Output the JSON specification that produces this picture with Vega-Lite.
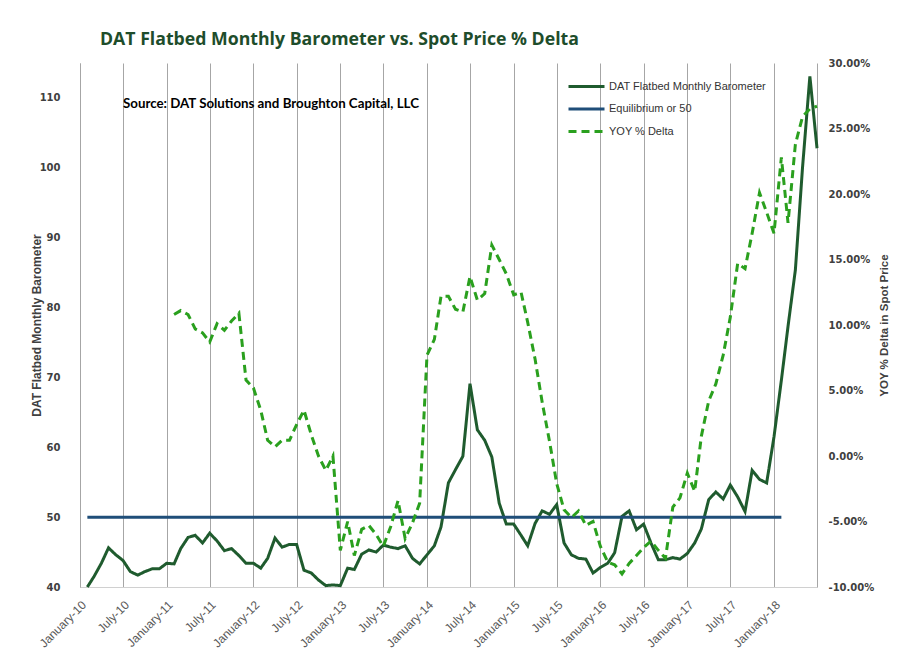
{
  "$schema": "https://vega.github.io/schema/vega-lite/v6.json",
  "width": 737,
  "height": 524,
  "autosize": "none",
  "padding": {"left": 80, "top": 63, "right": 94, "bottom": 74},
  "background": "white",
  "config": {
    "view": {"stroke": null},
    "axis": {"ticks": false, "labelFont": "DejaVu Sans", "titleFont": "Liberation Sans"}
  },
  "title": {
    "text": "DAT Flatbed Monthly Barometer vs. Spot Price % Delta",
    "anchor": "start",
    "frame": "group",
    "dx": 20,
    "offset": 9,
    "font": "Open Sans",
    "fontSize": 17.7,
    "fontWeight": "bold",
    "color": "#1e4d2b"
  },
  "data": {
    "values": [
      {"month": "2010-02", "barometer": 40.0, "equilibrium": 50},
      {"month": "2010-03", "barometer": 41.5, "equilibrium": 50},
      {"month": "2010-04", "barometer": 43.4, "equilibrium": 50},
      {"month": "2010-05", "barometer": 45.6, "equilibrium": 50},
      {"month": "2010-06", "barometer": 44.6, "equilibrium": 50},
      {"month": "2010-07", "barometer": 43.8, "equilibrium": 50},
      {"month": "2010-08", "barometer": 42.2, "equilibrium": 50},
      {"month": "2010-09", "barometer": 41.7, "equilibrium": 50},
      {"month": "2010-10", "barometer": 42.2, "equilibrium": 50},
      {"month": "2010-11", "barometer": 42.6, "equilibrium": 50},
      {"month": "2010-12", "barometer": 42.6, "equilibrium": 50},
      {"month": "2011-01", "barometer": 43.4, "equilibrium": 50},
      {"month": "2011-02", "barometer": 43.3, "equilibrium": 50, "yoy": 0.108},
      {"month": "2011-03", "barometer": 45.5, "equilibrium": 50, "yoy": 0.111},
      {"month": "2011-04", "barometer": 47.1, "equilibrium": 50, "yoy": 0.108},
      {"month": "2011-05", "barometer": 47.4, "equilibrium": 50, "yoy": 0.097},
      {"month": "2011-06", "barometer": 46.3, "equilibrium": 50, "yoy": 0.094},
      {"month": "2011-07", "barometer": 47.7, "equilibrium": 50, "yoy": 0.087},
      {"month": "2011-08", "barometer": 46.6, "equilibrium": 50, "yoy": 0.101},
      {"month": "2011-09", "barometer": 45.2, "equilibrium": 50, "yoy": 0.096},
      {"month": "2011-10", "barometer": 45.5, "equilibrium": 50, "yoy": 0.103},
      {"month": "2011-11", "barometer": 44.5, "equilibrium": 50, "yoy": 0.109},
      {"month": "2011-12", "barometer": 43.4, "equilibrium": 50, "yoy": 0.058},
      {"month": "2012-01", "barometer": 43.4, "equilibrium": 50, "yoy": 0.052},
      {"month": "2012-02", "barometer": 42.7, "equilibrium": 50, "yoy": 0.035},
      {"month": "2012-03", "barometer": 44.1, "equilibrium": 50, "yoy": 0.012},
      {"month": "2012-04", "barometer": 47.0, "equilibrium": 50, "yoy": 0.007},
      {"month": "2012-05", "barometer": 45.7, "equilibrium": 50, "yoy": 0.012},
      {"month": "2012-06", "barometer": 46.1, "equilibrium": 50, "yoy": 0.012},
      {"month": "2012-07", "barometer": 46.1, "equilibrium": 50, "yoy": 0.024},
      {"month": "2012-08", "barometer": 42.4, "equilibrium": 50, "yoy": 0.035},
      {"month": "2012-09", "barometer": 42.0, "equilibrium": 50, "yoy": 0.016},
      {"month": "2012-10", "barometer": 41.0, "equilibrium": 50, "yoy": 0.000},
      {"month": "2012-11", "barometer": 40.2, "equilibrium": 50, "yoy": -0.011},
      {"month": "2012-12", "barometer": 40.3, "equilibrium": 50, "yoy": 0.000},
      {"month": "2013-01", "barometer": 40.2, "equilibrium": 50, "yoy": -0.072},
      {"month": "2013-02", "barometer": 42.7, "equilibrium": 50, "yoy": -0.050},
      {"month": "2013-03", "barometer": 42.5, "equilibrium": 50, "yoy": -0.076},
      {"month": "2013-04", "barometer": 44.7, "equilibrium": 50, "yoy": -0.056},
      {"month": "2013-05", "barometer": 45.3, "equilibrium": 50, "yoy": -0.053},
      {"month": "2013-06", "barometer": 45.0, "equilibrium": 50, "yoy": -0.060},
      {"month": "2013-07", "barometer": 46.0, "equilibrium": 50, "yoy": -0.069},
      {"month": "2013-08", "barometer": 45.7, "equilibrium": 50, "yoy": -0.054},
      {"month": "2013-09", "barometer": 45.5, "equilibrium": 50, "yoy": -0.034},
      {"month": "2013-10", "barometer": 45.9, "equilibrium": 50, "yoy": -0.063},
      {"month": "2013-11", "barometer": 44.1, "equilibrium": 50, "yoy": -0.051},
      {"month": "2013-12", "barometer": 43.3, "equilibrium": 50, "yoy": -0.036},
      {"month": "2014-01", "barometer": 44.6, "equilibrium": 50, "yoy": 0.077},
      {"month": "2014-02", "barometer": 45.9, "equilibrium": 50, "yoy": 0.089},
      {"month": "2014-03", "barometer": 48.6, "equilibrium": 50, "yoy": 0.122},
      {"month": "2014-04", "barometer": 54.9, "equilibrium": 50, "yoy": 0.122},
      {"month": "2014-05", "barometer": 56.8, "equilibrium": 50, "yoy": 0.112},
      {"month": "2014-06", "barometer": 58.7, "equilibrium": 50, "yoy": 0.110},
      {"month": "2014-07", "barometer": 69.1, "equilibrium": 50, "yoy": 0.137},
      {"month": "2014-08", "barometer": 62.5, "equilibrium": 50, "yoy": 0.119},
      {"month": "2014-09", "barometer": 61.0, "equilibrium": 50, "yoy": 0.124},
      {"month": "2014-10", "barometer": 58.6, "equilibrium": 50, "yoy": 0.161},
      {"month": "2014-11", "barometer": 52.0, "equilibrium": 50, "yoy": 0.150},
      {"month": "2014-12", "barometer": 49.0, "equilibrium": 50, "yoy": 0.139},
      {"month": "2015-01", "barometer": 49.0, "equilibrium": 50, "yoy": 0.123},
      {"month": "2015-02", "barometer": 47.4, "equilibrium": 50, "yoy": 0.125},
      {"month": "2015-03", "barometer": 45.9, "equilibrium": 50, "yoy": 0.102},
      {"month": "2015-04", "barometer": 49.1, "equilibrium": 50, "yoy": 0.074},
      {"month": "2015-05", "barometer": 50.9, "equilibrium": 50, "yoy": 0.041},
      {"month": "2015-06", "barometer": 50.4, "equilibrium": 50, "yoy": 0.011},
      {"month": "2015-07", "barometer": 51.8, "equilibrium": 50, "yoy": -0.021},
      {"month": "2015-08", "barometer": 46.3, "equilibrium": 50, "yoy": -0.041},
      {"month": "2015-09", "barometer": 44.6, "equilibrium": 50, "yoy": -0.047},
      {"month": "2015-10", "barometer": 44.1, "equilibrium": 50, "yoy": -0.042},
      {"month": "2015-11", "barometer": 44.0, "equilibrium": 50, "yoy": -0.053},
      {"month": "2015-12", "barometer": 42.0, "equilibrium": 50, "yoy": -0.050},
      {"month": "2016-01", "barometer": 42.8, "equilibrium": 50, "yoy": -0.069},
      {"month": "2016-02", "barometer": 43.4, "equilibrium": 50, "yoy": -0.081},
      {"month": "2016-03", "barometer": 44.9, "equilibrium": 50, "yoy": -0.083},
      {"month": "2016-04", "barometer": 50.1, "equilibrium": 50, "yoy": -0.090},
      {"month": "2016-05", "barometer": 50.9, "equilibrium": 50, "yoy": -0.082},
      {"month": "2016-06", "barometer": 48.2, "equilibrium": 50, "yoy": -0.076},
      {"month": "2016-07", "barometer": 49.0, "equilibrium": 50, "yoy": -0.070},
      {"month": "2016-08", "barometer": 46.3, "equilibrium": 50, "yoy": -0.065},
      {"month": "2016-09", "barometer": 43.9, "equilibrium": 50, "yoy": -0.072},
      {"month": "2016-10", "barometer": 43.9, "equilibrium": 50, "yoy": -0.078},
      {"month": "2016-11", "barometer": 44.2, "equilibrium": 50, "yoy": -0.039},
      {"month": "2016-12", "barometer": 44.0, "equilibrium": 50, "yoy": -0.032},
      {"month": "2017-01", "barometer": 44.8, "equilibrium": 50, "yoy": -0.013},
      {"month": "2017-02", "barometer": 46.3, "equilibrium": 50, "yoy": -0.027},
      {"month": "2017-03", "barometer": 48.3, "equilibrium": 50, "yoy": 0.015},
      {"month": "2017-04", "barometer": 52.5, "equilibrium": 50, "yoy": 0.042},
      {"month": "2017-05", "barometer": 53.6, "equilibrium": 50, "yoy": 0.055},
      {"month": "2017-06", "barometer": 52.6, "equilibrium": 50, "yoy": 0.077},
      {"month": "2017-07", "barometer": 54.6, "equilibrium": 50, "yoy": 0.106},
      {"month": "2017-08", "barometer": 52.9, "equilibrium": 50, "yoy": 0.147},
      {"month": "2017-09", "barometer": 50.8, "equilibrium": 50, "yoy": 0.143},
      {"month": "2017-10", "barometer": 56.7, "equilibrium": 50, "yoy": 0.170},
      {"month": "2017-11", "barometer": 55.4, "equilibrium": 50, "yoy": 0.201},
      {"month": "2017-12", "barometer": 54.9, "equilibrium": 50, "yoy": 0.186},
      {"month": "2018-01", "barometer": 61.5, "equilibrium": 50, "yoy": 0.170},
      {"month": "2018-02", "barometer": 69.6, "equilibrium": 50, "yoy": 0.228},
      {"month": "2018-03", "barometer": 77.3, "yoy": 0.178},
      {"month": "2018-04", "barometer": 85.4, "yoy": 0.238},
      {"month": "2018-05", "barometer": 100.0, "yoy": 0.259},
      {"month": "2018-06", "barometer": 113.1, "yoy": 0.265},
      {"month": "2018-07", "barometer": 102.8, "yoy": 0.267}
    ],
    "format": {"parse": {"month": "date:'%Y-%m'"}}
  },
  "encoding": {
    "x": {
      "field": "month",
      "type": "temporal",
      "scale": {"domain": [{"year": 2010, "month": 1, "date": 1}, {"year": 2018, "month": 7, "date": 1}]},
      "axis": {
        "title": null,
        "format": "%B-%y",
        "values": [
          {"year": 2010, "month": 1, "date": 1}, {"year": 2010, "month": 7, "date": 1},
          {"year": 2011, "month": 1, "date": 1}, {"year": 2011, "month": 7, "date": 1},
          {"year": 2012, "month": 1, "date": 1}, {"year": 2012, "month": 7, "date": 1},
          {"year": 2013, "month": 1, "date": 1}, {"year": 2013, "month": 7, "date": 1},
          {"year": 2014, "month": 1, "date": 1}, {"year": 2014, "month": 7, "date": 1},
          {"year": 2015, "month": 1, "date": 1}, {"year": 2015, "month": 7, "date": 1},
          {"year": 2016, "month": 1, "date": 1}, {"year": 2016, "month": 7, "date": 1},
          {"year": 2017, "month": 1, "date": 1}, {"year": 2017, "month": 7, "date": 1},
          {"year": 2018, "month": 1, "date": 1}
        ],
        "labelAngle": -45,
        "labelOverlap": false,
        "labelFont": "Liberation Sans",
        "labelFontSize": 12,
        "labelColor": "#595959",
        "labelPadding": 12,
        "grid": true,
        "gridColor": "#a6a6a6",
        "domainColor": "#d0d0d0"
      }
    }
  },
  "layer": [
    {
      "data": {"values": [{"level": 50}, {"level": 60}, {"level": 70}, {"level": 80}, {"level": 90}, {"level": 100}, {"level": 110}]},
      "mark": {"type": "rule", "color": "#d9d9d9", "strokeWidth": 1},
      "encoding": {
        "x": {"datum": {"year": 2010, "month": 1, "date": 1}, "type": "temporal"},
        "x2": {"datum": {"year": 2018, "month": 7, "date": 1}},
        "y": {"field": "level", "type": "quantitative", "scale": {"domain": [40, 115], "nice": false, "zero": false}, "axis": null}
      }
    },
    {
      "transform": [
        {"fold": ["barometer", "equilibrium"], "as": ["series", "level"]}
      ],
      "mark": {"type": "line", "strokeWidth": 3},
      "encoding": {
        "y": {
          "field": "level",
          "type": "quantitative",
          "scale": {"domain": [40, 115], "nice": false, "zero": false},
          "axis": {
            "orient": "left",
            "title": "DAT Flatbed Monthly Barometer",
            "values": [40, 50, 60, 70, 80, 90, 100, 110],
            "labelFontSize": 10,
            "labelFontWeight": "bold",
            "labelColor": "#404040",
            "labelPadding": 20,
            "titleFontSize": 12,
            "titleFontWeight": "bold",
            "titleColor": "#404040",
            "titlePadding": -4,
            "grid": false,
            "domainColor": "#a6a6a6"
          }
        },
        "color": {
          "field": "series",
          "type": "nominal",
          "scale": {"domain": ["barometer", "equilibrium", "yoy"], "range": ["#1f5b2e", "#1f4e79", "#2aa01e"]},
          "legend": {
            "title": null,
            "orient": "none",
            "legendX": 499,
            "legendY": 16,
            "symbolType": "M-3,0H3",
            "symbolSize": 144,
            "symbolStrokeWidth": 3,
            "rowPadding": 8.5,
            "labelOffset": 15,
            "labelFont": "Liberation Sans",
            "labelFontSize": 11,
            "labelColor": "#333333",
            "labelExpr": "datum.label == 'barometer' ? 'DAT Flatbed Monthly Barometer' : datum.label == 'equilibrium' ? 'Equilibrium or 50' : ' YOY % Delta'"
          }
        },
        "strokeDash": {
          "field": "series",
          "type": "nominal",
          "scale": {"domain": ["barometer", "equilibrium", "yoy"], "range": [[1, 0], [1, 0], [8, 5]]},
          "legend": {
            "title": null,
            "orient": "none",
            "legendX": 499,
            "legendY": 16,
            "symbolType": "M-3,0H3",
            "symbolSize": 144,
            "symbolStrokeWidth": 3,
            "rowPadding": 8.5,
            "labelOffset": 15,
            "labelFont": "Liberation Sans",
            "labelFontSize": 11,
            "labelColor": "#333333",
            "labelExpr": "datum.label == 'barometer' ? 'DAT Flatbed Monthly Barometer' : datum.label == 'equilibrium' ? 'Equilibrium or 50' : ' YOY % Delta'"
          }
        }
      }
    },
    {
      "data": {
        "values": [
          {"month": "2010-07", "level": 109.1, "note": "Source: DAT Solutions and Broughton Capital, LLC"}
        ],
        "format": {"parse": {"month": "date:'%Y-%m'"}}
      },
      "mark": {"type": "text", "align": "left", "baseline": "middle", "font": "Lato", "fontSize": 13.3, "fontWeight": "bold", "color": "black"},
      "encoding": {
        "y": {"field": "level", "type": "quantitative", "scale": {"domain": [40, 115], "nice": false, "zero": false}, "axis": null},
        "text": {"field": "note"}
      }
    },
    {
      "transform": [
        {"fold": ["yoy"], "as": ["series", "delta"]}
      ],
      "mark": {"type": "line", "strokeWidth": 3},
      "encoding": {
        "y": {
          "field": "delta",
          "type": "quantitative",
          "scale": {"domain": [-0.1, 0.3], "nice": false, "zero": false},
          "axis": {
            "orient": "right",
            "title": "YOY % Delta in Spot Price",
            "values": [-0.1, -0.05, 0, 0.05, 0.1, 0.15, 0.2, 0.25, 0.3],
            "labelExpr": "replace(format(datum.value, '.2%'), '\u2212', '-')",
            "labelFontSize": 10,
            "labelFontWeight": "bold",
            "labelColor": "#404040",
            "labelPadding": 11,
            "titleAngle": -90,
            "titleFontSize": 11.5,
            "titleFontWeight": "bold",
            "titleColor": "#404040",
            "titlePadding": 16,
            "grid": false,
            "domainColor": "#a6a6a6"
          }
        },
        "color": {"field": "series", "type": "nominal"},
        "strokeDash": {"field": "series", "type": "nominal"}
      }
    }
  ],
  "resolve": {"scale": {"y": "independent"}}
}
